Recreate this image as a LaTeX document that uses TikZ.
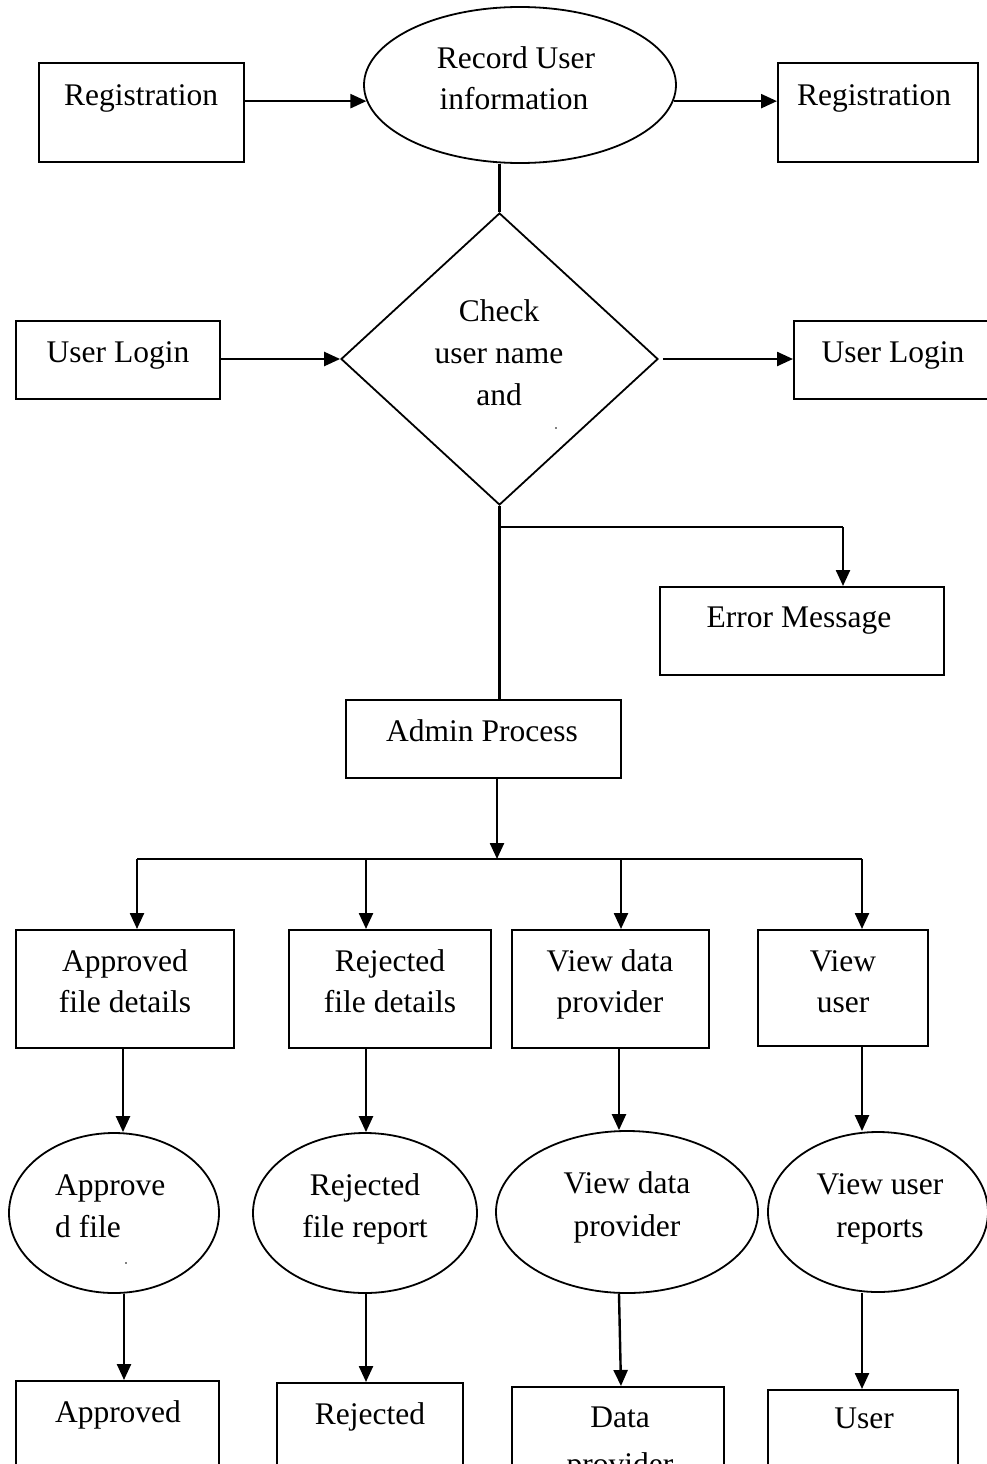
\documentclass[tikz,border=0pt]{standalone}
\usepackage{fontspec}
\setmainfont{Liberation Serif}
\usetikzlibrary{shapes.geometric,arrows.meta}
\begin{document}
\begin{tikzpicture}[x=1pt,y=-1pt,
  box/.style={draw,line width=2pt,rectangle,inner sep=0pt},
  proc/.style={draw,line width=1.8pt,ellipse,inner sep=0pt},
  arr/.style={line width=2.4pt,-{Triangle[length=16pt,width=14pt]}},
  conn/.style={line width=2.2pt},
  txt/.style={font=\fontsize{31.5}{42}\selectfont,inner sep=0pt,anchor=base}]
\useasboundingbox (0,0) rectangle (987,1464);
\fill[white] (0,0) rectangle (987,1464);

% top row
\node[box,minimum width=205pt,minimum height=99pt] (reg1) at (141.5,112.5) {};
\node[txt] (treg1) at (141,105) {Registration};
\node[proc,minimum width=312pt,minimum height=156pt] (rec) at (520,85) {};
\node[txt] (trec1) at (516,68) {Record User};
\node[txt] (trec2) at (514,110) {information};
\node[box,minimum width=200pt,minimum height=99pt] (reg2) at (878,112.5) {};
\node[txt] (treg2) at (874,105) {Registration};

% decision
\node[draw,line width=1.8pt,diamond,minimum width=317pt,minimum height=292pt,inner sep=0pt] (dia) at (499.5,359) {};
\node[txt] (tdia1) at (499,321) {Check};
\node[txt] (tdia2) at (499,363) {user name};
\node[txt] (tdia3) at (499,405) {and};
\fill (556,428) circle (0.9pt);

\node[box,minimum width=204pt,minimum height=78pt] (ul1) at (118,360) {};
\node[txt] (tul1) at (118,362) {User Login};
\node[box,minimum width=194pt,minimum height=78pt] (ul2) at (891,360) {};
\node[txt] (tul2) at (893,362) {User Login};

\node[box,minimum width=284pt,minimum height=88pt] (err) at (802,631) {};
\node[txt] (terr) at (799,627) {Error Message};
\node[box,minimum width=275pt,minimum height=78pt] (adm) at (483.5,739) {};
\node[txt] (tadm) at (482,741) {Admin Process};

% second row boxes
\node[box,minimum width=218pt,minimum height=118pt] (b1) at (125,989) {};
\node[txt] (tb1a) at (125,971) {Approved};
\node[txt] (tb1b) at (125,1012) {file details};
\node[box,minimum width=202pt,minimum height=118pt] (b2) at (390,989) {};
\node[txt] (tb2a) at (390,971) {Rejected};
\node[txt] (tb2b) at (390,1012) {file details};
\node[box,minimum width=197pt,minimum height=118pt] (b3) at (610.5,989) {};
\node[txt] (tb3a) at (610,971) {View data};
\node[txt] (tb3b) at (610,1012) {provider};
\node[box,minimum width=170pt,minimum height=116pt] (b4) at (843,988) {};
\node[txt] (tb4a) at (843,971) {View};
\node[txt] (tb4b) at (843,1012) {user};

% ellipses
\node[proc,minimum width=210pt,minimum height=160pt] (e1) at (114,1213) {};
\node[txt,anchor=base west] (te1a) at (55,1195) {Approve};
\node[txt,anchor=base west] (te1b) at (55,1237) {d file};
\fill (126,1263) circle (0.9pt);
\node[proc,minimum width=224pt,minimum height=160pt] (e2) at (365,1213) {};
\node[txt] (te2a) at (365,1195) {Rejected};
\node[txt] (te2b) at (365,1237) {file report};
\node[proc,minimum width=262pt,minimum height=162pt] (e3) at (627,1212) {};
\node[txt] (te3a) at (627,1193) {View data};
\node[txt] (te3b) at (627,1236) {provider};
\node[proc,minimum width=220pt,minimum height=160pt] (e4) at (878,1212) {};
\node[txt] (te4a) at (880,1194) {View user};
\node[txt] (te4b) at (880,1237) {reports};

% bottom boxes
\node[box,minimum width=203pt,minimum height=118pt] (f1) at (117.5,1440) {};
\node[txt] (tf1) at (118,1422) {Approved};
\node[box,minimum width=186pt,minimum height=116pt] (f2) at (370,1441) {};
\node[txt] (tf2) at (370,1424) {Rejected};
\node[box,minimum width=212pt,minimum height=116pt] (f3) at (618,1445) {};
\node[txt] (tf3a) at (620,1427) {Data};
\node[txt] (tf3b) at (620,1474) {provider};
\node[box,minimum width=190pt,minimum height=116pt] (f4) at (863,1448) {};
\node[txt] (tf4) at (864,1428) {User};

% connectors top
\draw[arr] (reg1.east |- rec.186) -- (rec.186);
\draw[arr] (rec.354) -- (rec.354 -| reg2.west);
\draw[conn] (rec.south -| dia.north) -- (dia.north);
\draw[arr] (ul1.east |- dia.west) -- (dia.west);
\draw[arr] ([xshift=4pt]dia.east) -- (dia.east -| ul2.west);

% decision outputs
\coordinate (br) at (499,527);
\coordinate (errin) at (843,527);
\draw[conn] (dia.south) -- (dia.south |- adm.north);
\draw[conn] (br) -- (errin);
\draw[arr] (errin) -- (errin |- err.north);

% admin bus
\coordinate (hub) at (497,859);
\coordinate (busL) at (137,859);
\coordinate (busR) at (862,859);
\draw[arr] (adm.south -| hub) -- (hub);
\draw[conn] (busL) -- (busR);
\draw[arr] (busL) -- (busL |- b1.north);
\coordinate (bus2) at (366,859);
\coordinate (bus3) at (621,859);
\draw[arr] (bus2) -- (bus2 |- b2.north);
\draw[arr] (bus3) -- (bus3 |- b3.north);
\draw[arr] (busR) -- (busR |- b4.north);

% boxes to ellipses
\coordinate (c1) at (123,1000);
\coordinate (c2) at (366,1000);
\coordinate (c3) at (619,1000);
\coordinate (c4) at (862,1000);
\draw[arr] (c1 |- b1.south) -- (c1 |- e1.north);
\draw[arr] (c2 |- b2.south) -- (c2 |- e2.north);
\draw[arr] (c3 |- b3.south) -- (c3 |- e3.north);
\draw[arr] (c4 |- b4.south) -- (c4 |- e4.north);

% ellipses to bottom boxes
\coordinate (d1) at (124,1300);
\coordinate (d2) at (366,1300);
\coordinate (d3) at (621,1300);
\coordinate (d4) at (862,1300);
\draw[arr] (d1 |- e1.south) -- (d1 |- f1.north);
\draw[arr] (d2 |- e2.south) -- (d2 |- f2.north);
\draw[arr] ([xshift=-2pt]d3 |- e3.south) -- (d3 |- f3.north);
\draw[arr] (d4 |- e4.south) -- (d4 |- f4.north);
\end{tikzpicture}
\end{document}
